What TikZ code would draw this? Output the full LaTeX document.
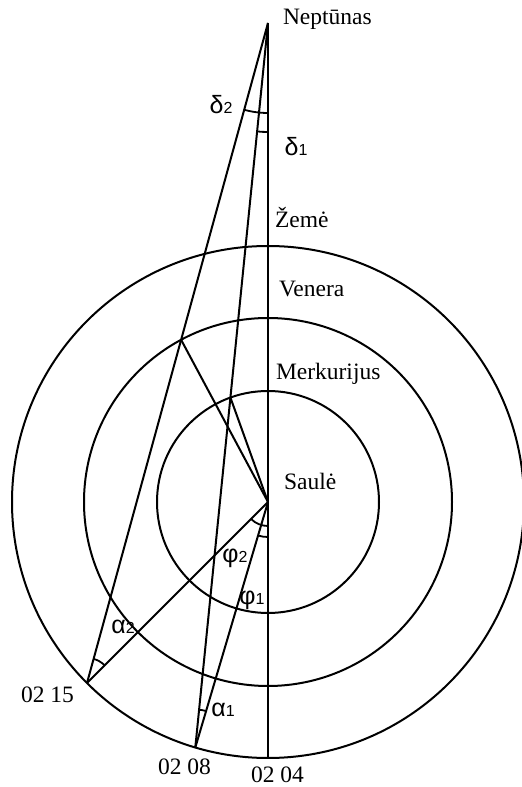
\documentclass[tikz,border=0pt]{standalone}
\usepackage{fontspec}
\setmainfont{Liberation Serif}
\newfontfamily\gkfont{Liberation Sans}
\newcommand\glab[2]{{\gkfont\fontsize{12.5}{14}\selectfont #1{\fontsize{8}{9}\selectfont #2}}}
\begin{document}
\begin{tikzpicture}[x=0.5pt,y=0.5pt,line width=1pt,
  lab/.style={inner sep=0pt,anchor=base west,font=\fontsize{11.75}{14}\selectfont},
  glabel/.style={inner sep=0pt,anchor=center},
  orbit/.style={draw},
  ray/.style={draw},
  anglemark/.style={draw,line width=0.9pt}]
\useasboundingbox (0,0) rectangle (522,787);
% key points
\coordinate (S) at (268,285);
\coordinate (N) at (268,764);
\coordinate (E04) at (268,29);
\coordinate (E08) at (195.3,39.5);
\coordinate (E15) at (87,104);
\coordinate (V) at (181.12,447.2);
\coordinate (M) at (230.41,389.43);
% orbits
\draw[orbit] (S) circle[radius=111];
\draw[orbit] (S) circle[radius=184];
\draw[orbit] (S) circle[radius=256];
% rays
\draw[ray] (N) -- (E04);
\draw[ray] (N) -- (E08);
\draw[ray] (N) -- (E15);
\draw[ray] (V) -- (S);
\draw[ray] (M) -- (S);
\draw[ray] (S) -- (E15);
\draw[ray] (S) -- (E08);
% angle marks
\draw[anglemark] ([shift={(N)}]254.66:90) arc[start angle=254.66,end angle=270,radius=90];
\draw[anglemark] ([shift={(N)}]264.27:109) arc[start angle=264.27,end angle=270,radius=109];
\draw[anglemark] ([shift={(S)}]225:24) arc[start angle=225,end angle=270,radius=24];
\draw[anglemark] ([shift={(S)}]253.5:35) arc[start angle=253.5,end angle=270,radius=35];
\draw[anglemark] ([shift={(E08)}]73.5:38) arc[start angle=73.5,end angle=84.27,radius=38];
\draw[anglemark] ([shift={(E15)}]45:25) arc[start angle=45,end angle=74.66,radius=25];
% labels
\node[lab] (lN) at (282,762) {Neptūnas};
\node[lab] (lZ) at (274,559) {Žemė};
\node[lab] (lV) at (278,490) {Venera};
\node[lab] (lM) at (275,407) {Merkurijus};
\node[lab] (lS) at (283,297) {Saulė};
\node[lab] (l15) at (20,84) {02 15};
\node[lab] (l08) at (157,12) {02 08};
\node[lab] (l04) at (250,4) {02 04};
% angle labels
\node[glabel] (d2) at (221,682) {\glab{δ}{2}};
\node[glabel] (d1) at (296,640) {\glab{δ}{1}};
\node[glabel] (f2) at (235,229) {\glab{φ}{2}};
\node[glabel] (f1) at (252,187) {\glab{φ}{1}};
\node[glabel] (a2) at (123,160) {\glab{α}{2}};
\node[glabel] (a1) at (223,77) {\glab{α}{1}};
\end{tikzpicture}
\end{document}
